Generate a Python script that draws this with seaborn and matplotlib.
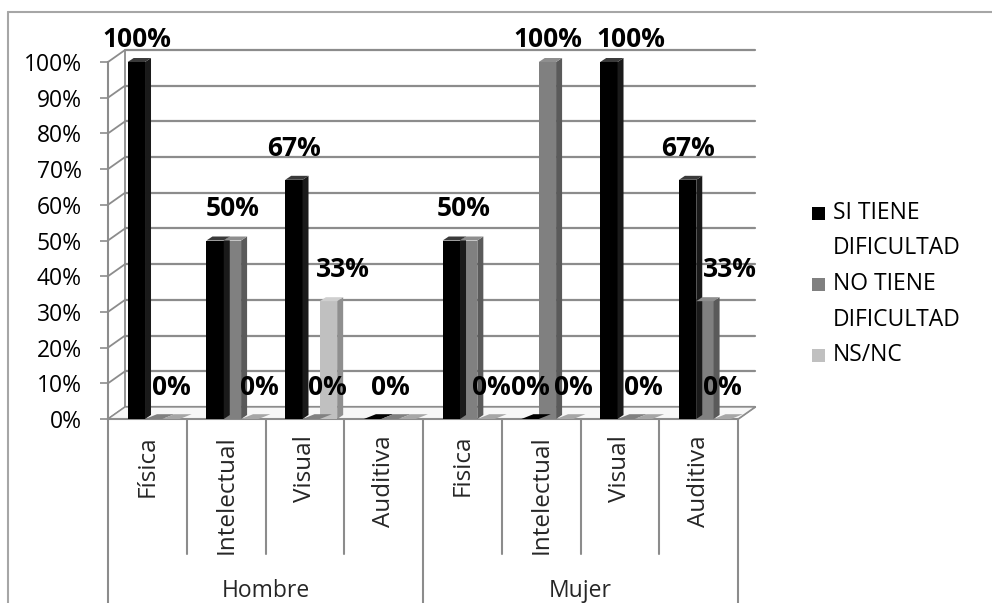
import numpy as np
import pandas as pd
import seaborn as sns
import matplotlib.pyplot as plt
import matplotlib.transforms as mtransforms
from matplotlib.patches import Polygon, Rectangle
from matplotlib.lines import Line2D

# ---------------- data ----------------
groups = ["Hombre", "Mujer"]
categories = ["Física", "Intelectual", "Visual", "Auditiva",
              "Fisica", "Intelectual", "Visual", "Auditiva"]
cat_group = ["Hombre"] * 4 + ["Mujer"] * 4
series = ["SI TIENE DIFICULTAD", "NO TIENE DIFICULTAD", "NS/NC"]
legend_labels = ["SI TIENE\nDIFICULTAD", "NO TIENE\nDIFICULTAD", "NS/NC"]
si_tiene = [100, 50, 67, 0, 50, 0, 100, 67]
no_tiene = [0, 50, 0, 0, 50, 100, 0, 33]
ns_nc = [0, 0, 33, 0, 0, 0, 0, 0]
yticks = [0, 10, 20, 30, 40, 50, 60, 70, 80, 90, 100]

# data labels that are visible in the chart: (category index, series index)
shown_labels = [(0, 0), (0, 2), (1, 1), (1, 2), (2, 0), (2, 1), (2, 2), (3, 1),
                (4, 1), (4, 2), (5, 0), (5, 1), (5, 2), (6, 0), (6, 2),
                (7, 0), (7, 1), (7, 2)]
# horizontal nudges of those labels (pixels), style only
label_nudge_px = [0, 0, 0, 10, 0, 16, 14, 0, -5, 5, 0, 0, 9, 22, 0, 0, 25, 0]

keys = [f"{g}|{c}" for g, c in zip(cat_group, categories)]
values = [si_tiene, no_tiene, ns_nc]
df = pd.DataFrame({
    "key": keys * 3,
    "serie": [s for s in series for _ in keys],
    "value": si_tiene + no_tiene + ns_nc,
})

colors = ["#000000", "#808080", "#c0c0c0"]
side_colors = ["#1a1a1a", "#5a5a5a", "#8f8f8f"]
top_colors = ["#3a3a3a", "#8e8e8e", "#cfcfcf"]
gray = "#8c8c8c"

sns.set_theme(style="white")
plt.rcParams["font.family"] = ["Open Sans", "DejaVu Sans"]

W_PX, H_PX = 992, 603
fig = plt.figure(figsize=(W_PX / 100, H_PX / 100), dpi=100)
x_left, x_right = 108, 738
y0_px, y100_px = 419, 62
ax = fig.add_axes([x_left / W_PX, (H_PX - y0_px) / H_PX,
                   (x_right - x_left) / W_PX, (y0_px - y100_px) / H_PX])
ax.patch.set_alpha(0)

sns.barplot(data=df, x="key", y="value", hue="serie", order=keys,
            hue_order=series, palette=colors, width=0.66, saturation=1,
            legend=False, ax=ax, linewidth=0, errorbar=None, zorder=3)

XMIN, XMAX = -0.58, 7.42
ax.set_xlim(XMIN, XMAX)
ax.set_ylim(0, 100)

px_x = (XMAX - XMIN) / (x_right - x_left)      # data units per pixel in x
px_y = 100 / (y0_px - y100_px)                   # data units per pixel in y

# ---- back wall, side wall and floor (pseudo 3D) ----
wx, wy = 17 * px_x, 12 * px_y
for v in yticks:
    ax.plot([XMIN + wx, XMAX + wx], [v + wy, v + wy], color=gray, lw=1.6,
            clip_on=False, zorder=0.5)
    ax.plot([XMIN, XMIN + wx], [v, v + wy], color=gray, lw=1.3,
            clip_on=False, zorder=0.5)
ax.plot([XMIN + wx] * 2, [wy, 100 + wy], color=gray, lw=1.3, clip_on=False, zorder=0.5)
ax.plot([XMAX, XMAX + wx], [0, wy], color=gray, lw=1.5, clip_on=False, zorder=0.5)
floor = Polygon([(XMIN, 0), (XMAX, 0), (XMAX + wx, wy), (XMIN + wx, wy)],
                closed=True, facecolor="#f7f7f7", edgecolor=gray, lw=1.0,
                zorder=0.6, clip_on=False)
ax.add_patch(floor)

# ---- 3D faces on the bars ----
dx, dy = 6 * px_x, 4 * px_y
for si, cont in enumerate(ax.containers):
    for bar in cont.patches:
        x0 = bar.get_x()
        w = bar.get_width()
        h = bar.get_height()
        if h > 0:
            side = Polygon([(x0 + w, 0), (x0 + w + dx, dy), (x0 + w + dx, h + dy), (x0 + w, h)],
                           closed=True, facecolor=side_colors[si], edgecolor="none",
                           zorder=3, clip_on=False)
            ax.add_patch(side)
            top = Polygon([(x0, h), (x0 + dx, h + dy), (x0 + w + dx, h + dy), (x0 + w, h)],
                          closed=True, facecolor=top_colors[si], edgecolor="none",
                          zorder=3, clip_on=False)
        else:
            ddx, ddy = 2.0 * dx, 1.2 * dy
            top = Polygon([(x0, h), (x0 + ddx, h + ddy), (x0 + w + ddx, h + ddy), (x0 + w, h)],
                          closed=True, facecolor=colors[si] if si < 2 else "#a6a6a6",
                          edgecolor="none", zorder=3, clip_on=False)
        ax.add_patch(top)

# ---- data labels ----
for (ci, si), nudge in zip(shown_labels, label_nudge_px):
    bar = ax.containers[si].patches[ci]
    v = values[si][ci]
    xc = bar.get_x() + bar.get_width() / 2 + nudge * px_x
    yb = min(v + 24 * px_y, 100 + 15 * px_y)
    ax.text(xc, yb, f"{v}%", ha="center", va="baseline", fontsize=19,
            fontweight="bold", color="black", zorder=6, clip_on=False)

# ---- axes styling ----
ax.set_xticks([])
ax.set_xlabel("")
ax.set_ylabel("")
ax.set_yticks(yticks)
ax.set_yticklabels([f"{v}%" for v in yticks])
ax.tick_params(axis="y", left=True, length=5.8, width=1.2, color=gray, pad=13,
               labelsize=16.5, labelcolor="black")
for s in ["top", "right"]:
    ax.spines[s].set_visible(False)
for s in ["left", "bottom"]:
    ax.spines[s].set_color(gray)
    ax.spines[s].set_linewidth(1.5)
    ax.spines[s].set_zorder(0.7)

# ---- two-level category axis ----
trans = mtransforms.blended_transform_factory(ax.transData, ax.transAxes)
ax_h = y0_px - y100_px
for i, c in enumerate(categories):
    ax.text(i + (XMIN + 0.5), -16 / ax_h, c, rotation=90, ha="center", va="top",
            fontsize=17.5, transform=trans, clip_on=False)
for i in range(len(categories) + 1):
    edge = i + XMIN
    if i % 4 == 0:
        ybot = -(H_PX - y0_px) / ax_h
    else:
        ybot = -(554 - y0_px) / ax_h
    ax.plot([edge, edge], [0, ybot], color=gray, lw=1.5, transform=trans,
            clip_on=False, zorder=0.7)
for gi, g in enumerate(groups):
    center = XMIN + 4 * gi + 2
    ax.text(center, -(591 - y0_px) / ax_h, g, ha="center", va="center",
            fontsize=16.5, transform=trans, clip_on=False)

# ---- legend (square aligned with the first line of each entry) ----
line_pitch = 35.5
first_line_px = 213
sq = 13
line_idx = 0
for lab, c in zip(legend_labels, colors):
    ycen = first_line_px + line_idx * line_pitch
    fig.add_artist(Rectangle((812 / W_PX, (H_PX - ycen - sq / 2) / H_PX),
                             sq / W_PX, sq / H_PX, transform=fig.transFigure,
                             facecolor=c, edgecolor="none"))
    for k, part in enumerate(lab.split("\n")):
        yl = ycen + k * line_pitch
        fig.text(833 / W_PX, (H_PX - yl) / H_PX, part, ha="left",
                 va="center", fontsize=16.5, color="black")
    line_idx += len(lab.split("\n"))

# ---- chart area border ----
bc = "#a6a6a6"
fig.add_artist(Line2D([8 / W_PX, 8 / W_PX], [0, 1 - 12 / H_PX], transform=fig.transFigure,
                      color=bc, lw=1.5))
fig.add_artist(Line2D([8 / W_PX, 1], [1 - 12 / H_PX] * 2, transform=fig.transFigure,
                      color=bc, lw=1.5))

fig.savefig("out.png", dpi=100, facecolor="white")
